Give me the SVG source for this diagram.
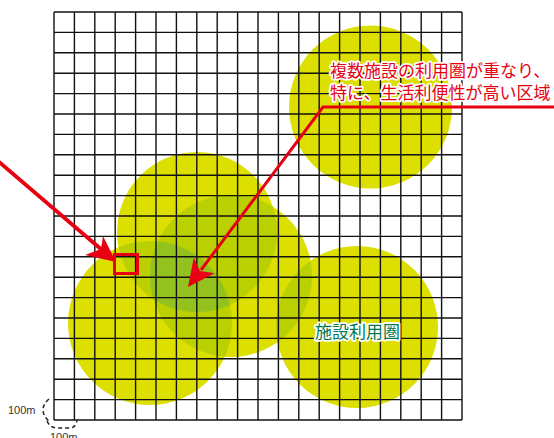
<svg xmlns="http://www.w3.org/2000/svg" width="554" height="438" viewBox="0 0 554 438">
<style>
.y{fill:#dcdf00}
.d{fill:#bad000}
.t{fill:#93c21e}
.grid{fill:none;stroke:#111;stroke-width:1.4}
.red{stroke:#e60012;fill:none}
.lbl{font-family:"Noto Sans CJK JP","Noto Sans",sans-serif;font-size:17px;paint-order:stroke;stroke:#fff;stroke-width:3.5;stroke-linejoin:round}
.sc{font-family:"Liberation Sans",Arial,sans-serif;font-size:11px;fill:#333}
.dash{fill:none;stroke:#222;stroke-width:1.5;stroke-dasharray:4 3}
</style>
<defs>
<clipPath id="cA"><circle cx="197" cy="232" r="80"/></clipPath>
<clipPath id="cB"><circle cx="231" cy="276" r="81"/></clipPath>
<clipPath id="cC"><circle cx="150" cy="323" r="82"/></clipPath>
<clipPath id="cD"><circle cx="357" cy="327" r="81"/></clipPath>
</defs>
<g id="areas">
<circle class="y" cx="370.5" cy="107" r="81.5"/>
<circle class="y" cx="197" cy="232" r="80"/>
<circle class="y" cx="231" cy="276" r="81"/>
<circle class="y" cx="150" cy="323" r="82"/>
<circle class="y" cx="357" cy="327" r="81"/>
<circle class="d" cx="197" cy="232" r="80" clip-path="url(#cB)"/>
<circle class="d" cx="197" cy="232" r="80" clip-path="url(#cC)"/>
<circle class="d" cx="231" cy="276" r="81" clip-path="url(#cC)"/>
<circle class="d" cx="231" cy="276" r="81" clip-path="url(#cD)"/>
<g clip-path="url(#cC)"><circle class="t" cx="197" cy="232" r="80" clip-path="url(#cB)"/></g>
</g>
<g id="grid">
<path class="grid" d="M54 12V420M74.4 12V420M94.8 12V420M115.2 12V420M135.6 12V420M156 12V420M176.4 12V420M196.8 12V420M217.2 12V420M237.6 12V420M258 12V420M278.4 12V420M298.8 12V420M319.2 12V420M339.6 12V420M360 12V420M380.4 12V420M400.8 12V420M421.2 12V420M441.6 12V420M462 12V420M54 12H462M54 32.4H462M54 52.8H462M54 73.2H462M54 93.6H462M54 114H462M54 134.4H462M54 154.8H462M54 175.2H462M54 195.6H462M54 216H462M54 236.4H462M54 256.8H462M54 277.2H462M54 297.6H462M54 318H462M54 338.4H462M54 358.8H462M54 379.2H462M54 399.6H462M54 420H462"/>
</g>
<g id="scale">
<text class="sc" x="8" y="414">100m</text>
<path class="dash" d="M49 399Q43 404 43 410Q43 416 49 421"/>
<path class="dash" d="M47 421Q50 428 57 428L70 428Q75 428 77 421"/>
<text class="sc" x="50" y="441">100m</text>
</g>
<g id="highlight">
<rect class="red" x="114.5" y="254.5" width="23" height="19" stroke-width="3"/>
</g>
<g id="connectors">
<path class="red" stroke-width="3.8" d="M-2 161L102 250"/>
<polygon fill="#e60012" points="116,262 103,236 101,249 85,255"/>
<path class="red" stroke-width="3" d="M554 107H323L201 270"/>
<polygon fill="#e60012" points="188,287 193.8,257.6 200,271 214.6,273.2"/>
</g>
<g id="label-overlap">
<text class="lbl" fill="#e60012" x="330" y="77">複数施設の利用圏が重なり、</text>
<text class="lbl" fill="#e60012" x="330" y="99">特に、生活利便性が高い区域</text>
</g>
<g id="label-area">
<text class="lbl" fill="#00784f" x="315" y="338">施設利用圏</text>
</g>
</svg>
